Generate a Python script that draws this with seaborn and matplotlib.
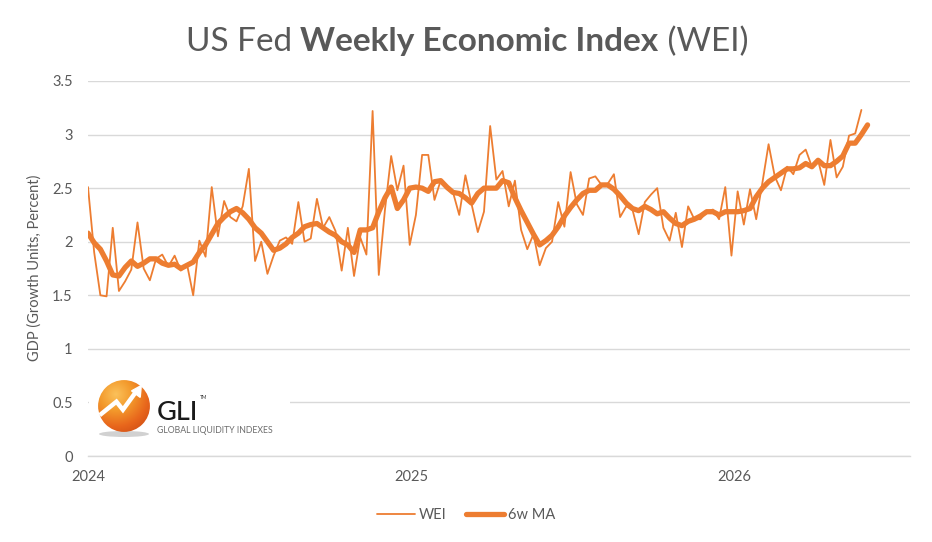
import numpy as np
import pandas as pd
import matplotlib
matplotlib.use("Agg")
import matplotlib.pyplot as plt
import seaborn as sns
from matplotlib.patches import Rectangle, Circle, Ellipse
from matplotlib.lines import Line2D
from matplotlib.colors import LinearSegmentedColormap

# ---------------- data ----------------
start_date = "2024-01-01"
wei = [2.51, 1.90, 1.50, 1.49, 2.13, 1.54, 1.63, 1.74, 2.18, 1.75,
       1.64, 1.84, 1.88, 1.77, 1.87, 1.73, 1.79, 1.50, 2.01, 1.86,
       2.51, 2.05, 2.38, 2.23, 2.19, 2.33, 2.68, 1.82, 2.00, 1.70,
       1.87, 2.01, 2.04, 1.98, 2.37, 2.00, 2.03, 2.40, 2.13, 2.23,
       2.10, 1.73, 2.13, 1.68, 2.04, 1.88, 3.22, 1.69, 2.30, 2.80,
       2.48, 2.71, 1.97, 2.25, 2.81, 2.81, 2.39, 2.57, 2.49, 2.46,
       2.25, 2.62, 2.35, 2.09, 2.28, 3.08, 2.58, 2.66, 2.33, 2.57,
       2.11, 1.93, 2.07, 1.78, 1.94, 2.00, 2.37, 2.14, 2.65, 2.35,
       2.25, 2.59, 2.61, 2.53, 2.54, 2.63, 2.23, 2.33, 2.30, 2.07,
       2.37, 2.44, 2.50, 2.13, 2.01, 2.27, 1.95, 2.33, 2.21, 2.21,
       2.28, 2.30, 2.21, 2.51, 1.87, 2.47, 2.16, 2.49, 2.21, 2.55,
       2.91, 2.61, 2.48, 2.70, 2.63, 2.81, 2.86, 2.70, 2.76, 2.53,
       2.95, 2.60, 2.70, 2.99, 3.01, 3.23]
ma6 = [2.08, 1.99, 1.93, 1.82, 1.69, 1.68, 1.76, 1.82, 1.77, 1.80,
       1.84, 1.84, 1.80, 1.78, 1.79, 1.75, 1.78, 1.81, 1.90, 1.97,
       2.07, 2.17, 2.23, 2.28, 2.31, 2.27, 2.21, 2.13, 2.08, 2.00,
       1.92, 1.94, 1.98, 2.04, 2.08, 2.14, 2.16, 2.17, 2.13, 2.09,
       2.06, 2.00, 1.97, 1.90, 2.11, 2.11, 2.13, 2.28, 2.41, 2.51,
       2.31, 2.39, 2.50, 2.51, 2.50, 2.47, 2.56, 2.57, 2.51, 2.46,
       2.45, 2.41, 2.36, 2.45, 2.50, 2.50, 2.50, 2.57, 2.55, 2.41,
       2.29, 2.18, 2.07, 1.97, 2.01, 2.06, 2.14, 2.24, 2.32, 2.39,
       2.45, 2.48, 2.48, 2.53, 2.53, 2.49, 2.43, 2.36, 2.31, 2.29,
       2.33, 2.30, 2.26, 2.28, 2.22, 2.17, 2.15, 2.19, 2.21, 2.24,
       2.28, 2.28, 2.25, 2.28, 2.28, 2.28, 2.29, 2.31, 2.42, 2.50,
       2.56, 2.60, 2.64, 2.68, 2.68, 2.69, 2.73, 2.70, 2.76, 2.71,
       2.71, 2.75, 2.80, 2.92, 2.92, 3.00, 3.09]
year_labels = ["2024", "2025", "2026"]
y_ticks = [0, 0.5, 1, 1.5, 2, 2.5, 3, 3.5]
y_tick_labels = ["0", "0.5", "1", "1.5", "2", "2.5", "3", "3.5"]
series_names = ["WEI", "6w MA"]
title_parts = [("US Fed ", "normal"), ("Weekly Economic Index", "bold"), (" (WEI)", "normal")]
y_label = "GDP (Growth Units, Percent)"

# ---------------- style ----------------
sns.set_theme(style="white")
plt.rcParams["font.family"] = ["Lato", "DejaVu Sans"]
ORANGE = "#ED7D31"
GRAY = "#595959"
GRID = "#D9D9D9"

W, H = 932, 542
fig = plt.figure(figsize=(W / 100, H / 100), dpi=100)
fig.patch.set_facecolor("white")


def fx(px):
    return px / W


def fy(py):
    return 1 - py / H


ax = fig.add_axes([fx(88), fy(456), fx(910) - fx(88), fy(81) - fy(456)])
ax.set_facecolor("white")

dates_ma = pd.date_range(start_date, periods=len(ma6), freq="7D")
dates_wei = dates_ma[: len(wei)]
df_w = pd.DataFrame({"date": dates_wei, "value": wei})
df_m = pd.DataFrame({"date": dates_ma, "value": ma6})

sns.lineplot(data=df_w, x="date", y="value", ax=ax, color=ORANGE, linewidth=1.3, legend=False)
sns.lineplot(data=df_m, x="date", y="value", ax=ax, color=ORANGE, linewidth=3.8, legend=False)
for ln in ax.get_lines():
    ln.set_solid_joinstyle("round")
    ln.set_solid_capstyle("round")
    ln.set_zorder(3)

ax.set_ylim(0, 3.5)
x0 = pd.Timestamp(start_date)
ax.set_xlim(x0, x0 + pd.Timedelta(days=930))
ax.set_yticks(y_ticks)
ax.set_yticklabels(y_tick_labels)
ax.set_xticks([pd.Timestamp(f"{y}-01-01") for y in year_labels])
ax.set_xticklabels(year_labels)
ax.yaxis.grid(True, color=GRID, linewidth=1.0)
ax.xaxis.grid(False)
ax.set_axisbelow(True)
for s in ["top", "right", "left"]:
    ax.spines[s].set_visible(False)
ax.spines["bottom"].set_color(GRID)
ax.spines["bottom"].set_linewidth(1.0)
ax.tick_params(axis="both", length=0, labelsize=10.5, labelcolor=GRAY)
ax.tick_params(axis="y", pad=11)
ax.tick_params(axis="x", pad=10)
ax.set_xlabel("")
ax.set_ylabel("")

# y label
fig.text(fx(35), fy(268), y_label, rotation=90, ha="center", va="center",
         fontsize=10.5, color=GRAY)

# title with mixed weights
renderer = fig.canvas.get_renderer()
tsize = 24
pieces = []
widths = []
for s, w in title_parts:
    t = fig.text(0, fy(51), s, fontsize=tsize, fontweight=w, color=GRAY,
                 ha="left", va="baseline")
    pieces.append(t)
for (s, w), t in zip(title_parts, pieces):
    probe = fig.text(0, 0, s.replace(" ", "\u00a0"), fontsize=tsize, fontweight=w)
    bb = probe.get_window_extent(renderer)
    widths.append(bb.width)
    probe.remove()
total = sum(widths)
xstart = 467 - total / 2
for t, wd in zip(pieces, widths):
    t.set_x(fx(xstart))
    xstart += wd

# legend
handles = [Line2D([], [], color=ORANGE, linewidth=1.3),
           Line2D([], [], color=ORANGE, linewidth=3.8, solid_capstyle="round")]
fig.legend(handles, series_names, loc="center", bbox_to_anchor=(fx(466), fy(515)),
           ncol=2, frameon=False, fontsize=10.5, labelcolor=GRAY,
           handlelength=2.6, handletextpad=0.25, columnspacing=1.4)

# ---------------- logo ----------------
fig.patches.append(Rectangle((fx(89), fy(446)), fx(290) - fx(89), fy(362) - fy(446),
                             transform=fig.transFigure, facecolor="white",
                             edgecolor="none", zorder=1))
fig.patches.append(Ellipse((fx(124), fy(434)), fx(50), 6 / H, transform=fig.transFigure,
                           facecolor="#9a9a9a", edgecolor="none", alpha=0.45, zorder=1.5))
lax = fig.add_axes([fx(97), fy(433), fx(54), 54 / H], zorder=2)
lax.set_xlim(0, 1)
lax.set_ylim(0, 1)
lax.axis("off")
gx, gy = np.meshgrid(np.linspace(0, 1, 120), np.linspace(0, 1, 120))
d = np.sqrt((gx - 0.35) ** 2 + (gy - 0.72) ** 2)
cmap = LinearSegmentedColormap.from_list("lg", ["#FBC15A", "#F39A2C", "#E8661C", "#C94712"])
img = lax.imshow(d, extent=[0, 1, 0, 1], origin="lower", cmap=cmap, vmin=0, vmax=0.9)
circ = Circle((0.5, 0.5), 0.48, transform=lax.transData)
img.set_clip_path(circ)
lax.plot([0.05, 0.36, 0.48, 0.72], [0.33, 0.58, 0.43, 0.76], color="white",
         linewidth=3.2, solid_joinstyle="miter", solid_capstyle="butt")
lax.fill([0.64, 0.82, 0.80], [0.78, 0.88, 0.66], color="white")

fig.text(fx(157), fy(420), "GLI", fontsize=19.5, color="#1a1a1a", ha="left",
         va="baseline", fontweight="medium")
fig.text(fx(200), fy(399), "TM", fontsize=3.5, color="#333333", ha="left", va="baseline")
fig.text(fx(157), fy(433), "GLOBAL LIQUIDITY INDEXES", fontsize=6.3, color="#6d6d6d",
         ha="left", va="baseline")

fig.savefig("out.png", dpi=100, facecolor="white")
